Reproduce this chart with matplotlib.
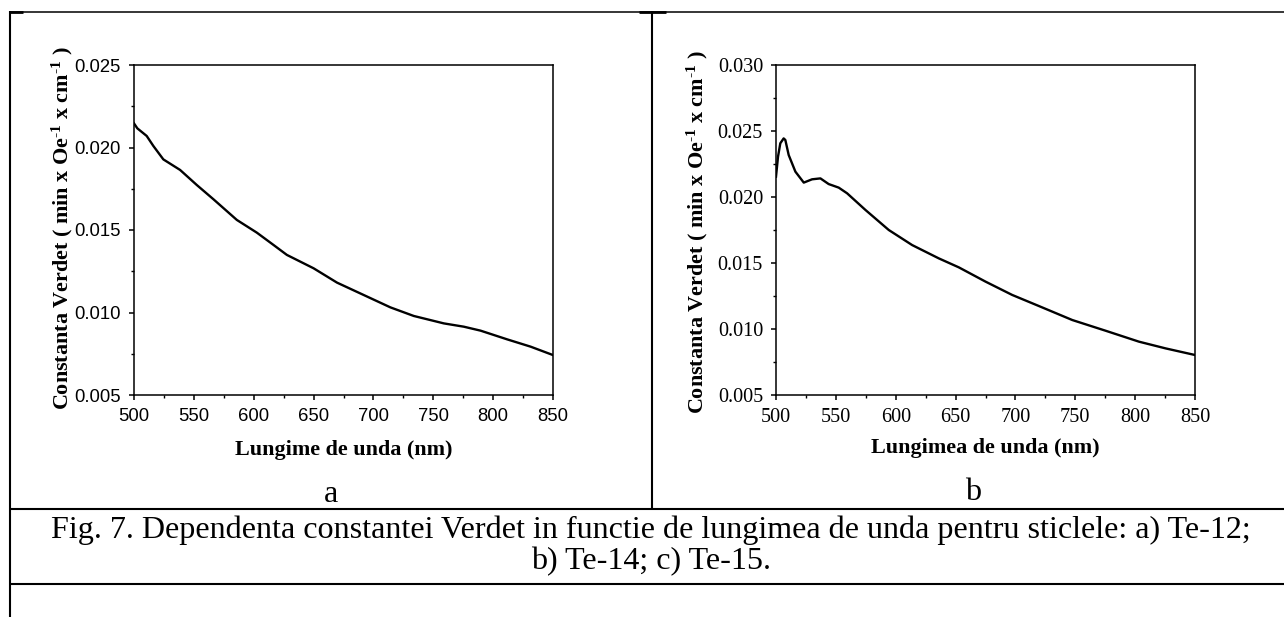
import matplotlib
matplotlib.use("Agg")
import matplotlib.pyplot as plt
from matplotlib.lines import Line2D
from matplotlib.ticker import MultipleLocator, FormatStrFormatter

# ---------------- data ----------------
wl_a = [500, 502.8, 510.6, 516.2, 524.5, 538.5, 552.4, 566.4, 585.9, 602.6, 616.6,
        627.7, 650, 669.6, 691.9, 714.2, 733.7, 758.8, 775.5, 789.5, 811.8, 831.3, 850]
verdet_a = [0.02146, 0.02116, 0.02070, 0.02009, 0.01928, 0.01864, 0.01773, 0.01686,
            0.01561, 0.01484, 0.01409, 0.01349, 0.01268, 0.01181, 0.01106, 0.01031,
            0.00979, 0.00934, 0.00914, 0.00890, 0.00837, 0.00793, 0.00742]

wl_b = [500, 501.7, 503.6, 506.4, 507.8, 510.6, 516.2, 523.2, 530.1, 537.1, 544.0,
        552.4, 559.4, 574.7, 594.2, 613.7, 636.0, 652.7, 675.0, 697.3, 719.6, 747.5,
        775.3, 803.2, 825.5, 850]
verdet_b = [0.02154, 0.02306, 0.02407, 0.02444, 0.02432, 0.02318, 0.02192, 0.02109,
            0.02134, 0.02141, 0.02098, 0.02071, 0.02028, 0.01902, 0.01750, 0.01636,
            0.01535, 0.01467, 0.01359, 0.01258, 0.01174, 0.01068, 0.00987, 0.00904,
            0.00853, 0.00803]

xticks = [500, 550, 600, 650, 700, 750, 800, 850]
ylim_a = (0.005, 0.025)
ylim_b = (0.005, 0.030)

ylabel_txt = r"Constanta Verdet ( min x Oe$^{\text{-1}}$ x cm$^{\text{-1}}$ )"
xlabel_a = "Lungime de unda (nm)"
xlabel_b = "Lungimea de unda (nm)"
caption1 = "Fig. 7. Dependenta constantei Verdet in functie de lungimea de unda pentru sticlele: a) Te-12;"
caption2 = "b) Te-14; c) Te-15."

# ---------------- figure ----------------
W, H = 1284, 617
plt.rcParams['mathtext.fontset'] = 'custom'
plt.rcParams['mathtext.rm'] = 'Liberation Serif:bold'
plt.rcParams['mathtext.bf'] = 'Liberation Serif:bold'
plt.rcParams['mathtext.it'] = 'Liberation Serif:bold:italic'

fig = plt.figure(figsize=(W / 100, H / 100), dpi=100)
fig.patch.set_facecolor('white')


def fx(px):
    return px / W


def fy(py):
    return 1 - py / H


def add_axes_px(x0, y0, x1, y1):
    return fig.add_axes([fx(x0), fy(y1), fx(x1) - fx(x0), fy(y0) - fy(y1)])


ax_a = add_axes_px(134, 65, 553, 395)
ax_b = add_axes_px(776, 65, 1195, 395)

sans = "Liberation Sans"
serif = "Liberation Serif"


def style(ax, ylim, tickfont, ticksize):
    ax.set_xlim(500, 850)
    ax.set_ylim(*ylim)
    ax.set_xticks(xticks)
    ax.xaxis.set_minor_locator(MultipleLocator(25))
    ax.yaxis.set_major_locator(MultipleLocator(0.005))
    ax.yaxis.set_minor_locator(MultipleLocator(0.0025))
    ax.yaxis.set_major_formatter(FormatStrFormatter('%.3f'))
    for s in ax.spines.values():
        s.set_linewidth(1.1)
        s.set_color('black')
    ax.tick_params(which='major', direction='out', length=3.8, width=1.1,
                   top=False, right=False, pad=5.5)
    ax.tick_params(which='minor', direction='out', length=2.4, width=1.0,
                   top=False, right=False)
    for lab in ax.get_xticklabels() + ax.get_yticklabels():
        lab.set_fontfamily(tickfont)
        lab.set_fontsize(ticksize)


ax_a.plot(wl_a, verdet_a, color='black', lw=1.7)
ax_b.plot(wl_b, verdet_b, color='black', lw=1.7)
style(ax_a, ylim_a, sans, 13.3)
style(ax_b, ylim_b, serif, 14.6)

yl_a = ax_a.set_ylabel(ylabel_txt, fontfamily=serif, fontweight='bold', fontsize=15,
                       va='center', ha='center')
ax_a.yaxis.set_label_coords((62 - 134) / 419, (395 - 228) / 330)
yl_b = ax_b.set_ylabel(ylabel_txt, fontfamily=serif, fontweight='bold', fontsize=15,
                       va='center', ha='center')
ax_b.yaxis.set_label_coords((697 - 776) / 419, (395 - 232) / 330)

xl_a = ax_a.set_xlabel(xlabel_a, fontfamily=serif, fontweight='bold', fontsize=15, va='center')
ax_a.xaxis.set_label_coords(0.5, (395 - 450) / 330)
xl_b = ax_b.set_xlabel(xlabel_b, fontfamily=serif, fontweight='bold', fontsize=15, va='center')
ax_b.xaxis.set_label_coords(0.5, (395 - 448) / 330)

# sub-figure letters and caption
t_a = fig.text(fx(331), fy(494), "a", fontfamily=serif, fontsize=20, ha='center', va='center')
t_b = fig.text(fx(973), fy(492), "b", fontfamily=serif, fontsize=20, ha='center', va='center')
c1 = fig.text(fx(651), fy(530), caption1, fontfamily=serif, fontsize=20, ha='center', va='center')
c2 = fig.text(fx(651), fy(562), caption2, fontfamily=serif, fontsize=20, ha='center', va='center')

# fit text sizes to measured pixel extents
fig.canvas.draw()
r = fig.canvas.get_renderer()


def fit(t, target, horizontal=True):
    bb = t.get_window_extent(r)
    cur = bb.width if horizontal else bb.height
    t.set_fontsize(t.get_fontsize() * target / cur)


fit(c1, 1202)
cs = c1.get_fontsize()
for t in (c2, t_a, t_b):
    t.set_fontsize(cs)
fit(xl_a, 217)
fit(xl_b, 228)
yl_a.set_fontsize(xl_a.get_fontsize())
yl_b.set_fontsize(xl_a.get_fontsize())

# table lines
lw_tab = 1.5


def hline(y, x0, x1, lw=lw_tab):
    fig.add_artist(Line2D([fx(x0), fx(x1)], [fy(y), fy(y)], color='black', lw=lw,
                          transform=fig.transFigure, solid_capstyle='butt'))


def vline(x, y0, y1, lw=lw_tab):
    fig.add_artist(Line2D([fx(x), fx(x)], [fy(y0), fy(y1)], color='black', lw=lw,
                          transform=fig.transFigure, solid_capstyle='butt'))


hline(12, 10, 1284, lw=1.1)
hline(12, 10, 23, lw=2.0)
hline(12, 639, 666, lw=2.0)
vline(10, 11, 617)
vline(652, 11, 509)
hline(509, 10, 1284)
hline(584, 10, 1284)

fig.savefig("out.png", dpi=100, facecolor='white')
